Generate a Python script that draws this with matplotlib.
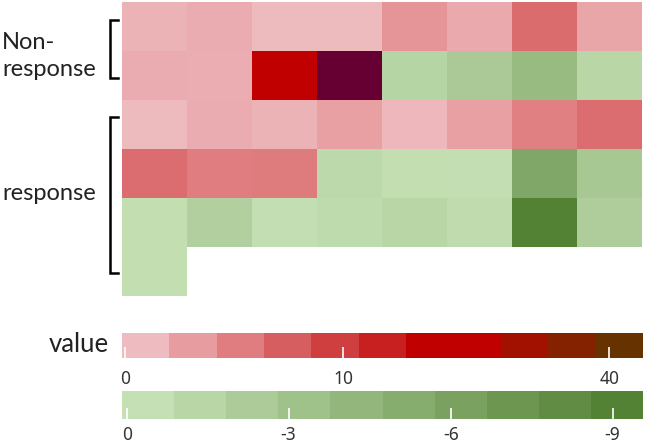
import numpy as np
import matplotlib
matplotlib.use('Agg')
import matplotlib.pyplot as plt
from matplotlib.colors import ListedColormap, BoundaryNorm, LinearSegmentedColormap, FuncNorm
from matplotlib.cm import ScalarMappable

# cell values, one list per heatmap row (positive = red scale, negative = green scale)
nonresp_row1 = [0.5, 1.0, 0.1, 0.1, 2.5, 1.2, 5.1, 1.4]
nonresp_row2 = [1.0, 0.9, 15, 60, -1.0, -2.0, -3.35, -0.85]
resp_row1 = [0.1, 1.0, 0.5, 1.8, 0.2, 1.8, 3.9, 5.0]
resp_row2 = [5.0, 4.0, 4.2, -0.65, -0.05, -0.1, -5.2, -2.2]
resp_row3 = [-0.05, -1.4, -0.1, -0.45, -0.93, -0.27, -9.2, -1.7]
resp_row4 = [-0.05]

group_labels = ['Non-\nresponse', 'response']

# legend scales
red_bounds = [-0.15, 2, 4, 6, 8, 11, 14, 18, 22, 30, 38, 45]
red_colors = ['#EEBCC0', '#E79DA0', '#DF7D80', '#D75E60', '#CF3F40', '#C81F20',
              '#C00000', '#C00000', '#A21100', '#842200', '#663300']
red_over = '#660033'
red_ticks = [0, 10, 40]

green_bounds = [-0.09, 0.88, 1.84, 2.81, 3.77, 4.74, 5.70, 6.67, 7.63, 8.60, 9.56]  # magnitudes
green_colors = ['#C5E0B4', '#B8D6A6', '#ACCB98', '#9FC18A', '#93B67C',
                '#86AC6E', '#7AA15F', '#6D9751', '#608C43', '#548235']
green_ticks = [0, 3, 6, 9]
green_ticklabels = ['0', '-3', '-6', '-9']

rows = [nonresp_row1, nonresp_row2, resp_row1, resp_row2, resp_row3, resp_row4]
ncol = 8
grid = np.full((len(rows), ncol), np.nan)
for i, r in enumerate(rows):
    grid[i, :len(r)] = r

W, H = 645, 445
fig = plt.figure(figsize=(6.45, 4.45), dpi=100)

def fx(px):
    return px / W

def fy(py):
    return 1 - py / H

label_font = ['Lato', 'DejaVu Sans']
tick_font = ['Noto Sans', 'DejaVu Sans']

ax = fig.add_axes([fx(122), fy(296), fx(520), 294 / H])
xe = np.arange(ncol + 1)
ye = np.arange(len(rows) + 1)

# red layer: continuous colours interpolated between legend steps
rk = np.array(red_bounds[:len(red_colors)], dtype=float)
red_cmap = LinearSegmentedColormap.from_list('reds', red_colors)
red_cmap.set_over(red_over)
red_cmap.set_bad((0, 0, 0, 0))
red_norm = FuncNorm((lambda v: np.interp(v, rk, np.arange(len(rk)), right=len(rk) + 1),
                     lambda u: np.interp(u, np.arange(len(rk)), rk)),
                    vmin=rk[0], vmax=rk[-1])
pos = np.where(grid > 0, grid, np.nan)
ax.pcolormesh(xe, ye, pos, cmap=red_cmap, norm=red_norm)

# green layer, drawn on magnitudes
gk = np.array(green_bounds[:len(green_colors)], dtype=float)
green_cmap = LinearSegmentedColormap.from_list('greens', green_colors)
green_cmap.set_bad((0, 0, 0, 0))
green_norm = FuncNorm((lambda v: np.interp(v, gk, np.arange(len(gk))),
                       lambda u: np.interp(u, np.arange(len(gk)), gk)),
                      vmin=gk[0], vmax=gk[-1])
neg = np.where(grid < 0, -grid, np.nan)
ax.pcolormesh(xe, ye, neg, cmap=green_cmap, norm=green_norm)

ax.set_xlim(0, ncol)
ax.set_ylim(len(rows), 0)
ax.axis('off')

# group brackets and labels
for (top, bot) in [(20, 78), (117, 273)]:
    xs = [fx(118), fx(110), fx(110), fx(118)]
    ys = [fy(top), fy(top), fy(bot), fy(bot)]
    fig.add_artist(plt.Line2D(xs, ys, color='black', lw=1.8, transform=fig.transFigure,
                              solid_joinstyle='miter'))

fig.text(fx(2), fy(56), group_labels[0], ha='left', va='center', fontsize=17,
         family=label_font, color='#222222', linespacing=1.35)
fig.text(fx(2), fy(194), group_labels[1], ha='left', va='center', fontsize=17,
         family=label_font, color='#222222')
fig.text(fx(109), fy(345), 'value', ha='right', va='center', fontsize=18.5,
         family=label_font, color='#222222')

# legend colour bars
def legend_bar(rect, bounds, colors, ticks, ticklabels, pad):
    cax = fig.add_axes(rect)
    sm = ScalarMappable(norm=BoundaryNorm(bounds, len(colors)), cmap=ListedColormap(colors))
    cb = fig.colorbar(sm, cax=cax, orientation='horizontal', spacing='uniform', ticks=ticks)
    cb.outline.set_visible(False)
    cb.ax.set_xticklabels(ticklabels)
    cb.ax.tick_params(axis='x', direction='in', colors='white', length=8, width=1.2,
                      pad=pad, labelcolor='#333333', labelsize=12.5)
    for t in cb.ax.get_xticklabels():
        t.set_family(tick_font)
    cb.ax.minorticks_off()
    return cb

legend_bar([fx(122), fy(358), fx(521), 25 / H], red_bounds, red_colors,
           red_ticks, [str(t) for t in red_ticks], 9)
legend_bar([fx(122), fy(419), fx(521), 28 / H], green_bounds, green_colors,
           green_ticks, green_ticklabels, 5)

fig.savefig('out.png', dpi=100)
